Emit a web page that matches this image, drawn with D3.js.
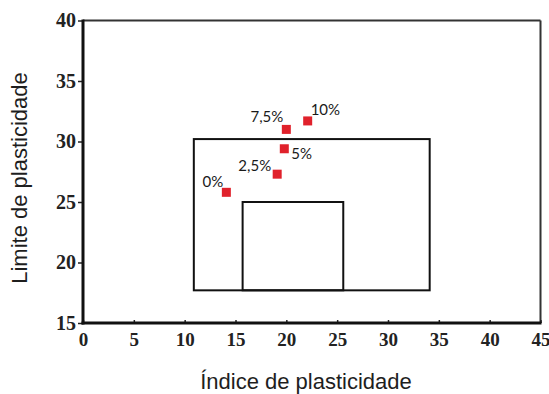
<!DOCTYPE html>
<html>
<head>
<meta charset="utf-8">
<script src="https://cdn.jsdelivr.net/npm/d3@7"></script>
<style>
  html, body { margin: 0; padding: 0; background: #fff; }
  svg { display: block; }
</style>
</head>
<body>
<svg id="chart" width="549" height="394"></svg>
<script>
// Soil samples by additive content (%), plotted as plasticity index vs plastic limit
const sampleLabels = ["0%", "2,5%", "5%", "7,5%", "10%"];
const plasticityIndex = [14.1, 19.1, 19.8, 20.0, 22.1];
const plasticLimit = [25.8, 27.3, 29.4, 31.0, 31.7];

// Reference zones: [xMin, xMax, yMin, yMax]
const zoneOuter = [10.9, 34.1, 17.7, 30.2];
const zoneInner = [15.7, 25.6, 17.7, 25.0];

const xTicks = [0, 5, 10, 15, 20, 25, 30, 35, 40, 45];
const yTicks = [15, 20, 25, 30, 35, 40];

const xTitle = "Índice de plasticidade";
const yTitle = "Limite de plasticidade";

const svg = d3.select("#chart");
const plotLeft = 83, plotRight = 540.5, plotTop = 20.5, plotBottom = 323;

const x = d3.scaleLinear().domain([0, 45]).range([plotLeft, plotRight]);
const y = d3.scaleLinear().domain([15, 40]).range([plotBottom, plotTop]);

// Zone rectangles
[zoneOuter, zoneInner].forEach(z => {
  svg.append("rect")
    .attr("x", x(z[0])).attr("y", y(z[3]))
    .attr("width", x(z[1]) - x(z[0]))
    .attr("height", y(z[2]) - y(z[3]))
    .attr("fill", "none")
    .attr("stroke", "#111")
    .attr("stroke-width", 2);
});

// Frame: top and right thinner, left and bottom heavier
svg.append("line").attr("x1", plotLeft).attr("x2", plotRight).attr("y1", plotTop).attr("y2", plotTop)
  .attr("stroke", "#333").attr("stroke-width", 2);
svg.append("line").attr("x1", plotRight).attr("x2", plotRight).attr("y1", plotTop).attr("y2", plotBottom)
  .attr("stroke", "#333").attr("stroke-width", 2);

// Axes
const tickFont = "Liberation Serif, Times New Roman, serif";

const gx = svg.append("g").attr("transform", `translate(0,${plotBottom})`)
  .attr("font-family", tickFont)
  .call(d3.axisBottom(x).tickValues(xTicks).tickSize(-3).tickFormat(d3.format("d")));
gx.attr("font-family", tickFont).attr("font-size", 19);
gx.select(".domain").remove();
gx.selectAll(".tick line").attr("stroke", "#222").attr("stroke-width", 1.5);
gx.selectAll(".tick text")
  .attr("y", 23).attr("dy", null)
  .style("font-family", tickFont).style("font-size", "19px").style("font-weight", "bold")
  .attr("fill", "#222");

const gy = svg.append("g").attr("transform", `translate(${plotLeft},0)`)
  .call(d3.axisLeft(y).tickValues(yTicks).tickSize(5).tickPadding(2).tickFormat(d3.format("d")));
gy.attr("font-family", tickFont).attr("font-size", 20);
gy.select(".domain").remove();
gy.selectAll(".tick line").attr("stroke", "#222").attr("stroke-width", 1.5);
gy.selectAll(".tick text")
  .style("font-family", tickFont).style("font-size", "20px").style("font-weight", "bold")
  .attr("fill", "#222");

svg.append("line").attr("x1", plotLeft).attr("x2", plotLeft).attr("y1", plotTop - 1).attr("y2", plotBottom + 1.5)
  .attr("stroke", "#111").attr("stroke-width", 3);
svg.append("line").attr("x1", plotLeft - 1.5).attr("x2", plotRight + 1).attr("y1", plotBottom).attr("y2", plotBottom)
  .attr("stroke", "#111").attr("stroke-width", 3);

// Axis titles
const titleFont = "Liberation Sans, Arial, sans-serif";
svg.append("text")
  .attr("x", 306).attr("y", 389)
  .attr("text-anchor", "middle")
  .style("font-family", titleFont).style("font-size", "22px")
  .attr("fill", "#1e1e1e")
  .text(xTitle);
svg.append("text")
  .attr("transform", "translate(27,178) rotate(-90)")
  .attr("text-anchor", "middle")
  .style("font-family", titleFont).style("font-size", "22px")
  .attr("fill", "#1e1e1e")
  .text(yTitle);

// Sample points
const samples = sampleLabels.map((s, i) => ({ label: s, x: plasticityIndex[i], y: plasticLimit[i] }));
const sq = 9;
svg.selectAll("rect.pt").data(samples).enter().append("rect")
  .attr("class", "pt")
  .attr("x", d => x(d.x) - sq / 2).attr("y", d => y(d.y) - sq / 2)
  .attr("width", sq).attr("height", sq)
  .attr("fill", "#e0212b");

// Label offsets relative to each point (dx to anchor, dy to baseline)
const labelDx = [-3, -6, 7, -3, 3];
const labelDy = [-5, -3, 10, -7, -6];
const labelAnchor = ["end", "end", "start", "end", "start"];
svg.selectAll("text.pl").data(samples).enter().append("text")
  .attr("class", "pl")
  .attr("x", (d, i) => x(d.x) + labelDx[i])
  .attr("y", (d, i) => y(d.y) + labelDy[i])
  .attr("text-anchor", (d, i) => labelAnchor[i])
  .style("font-family", "Lato, Open Sans, sans-serif")
  .style("font-size", "15px")
  .attr("fill", "#1a1a1a")
  .text(d => d.label);
</script>
</body>
</html>
